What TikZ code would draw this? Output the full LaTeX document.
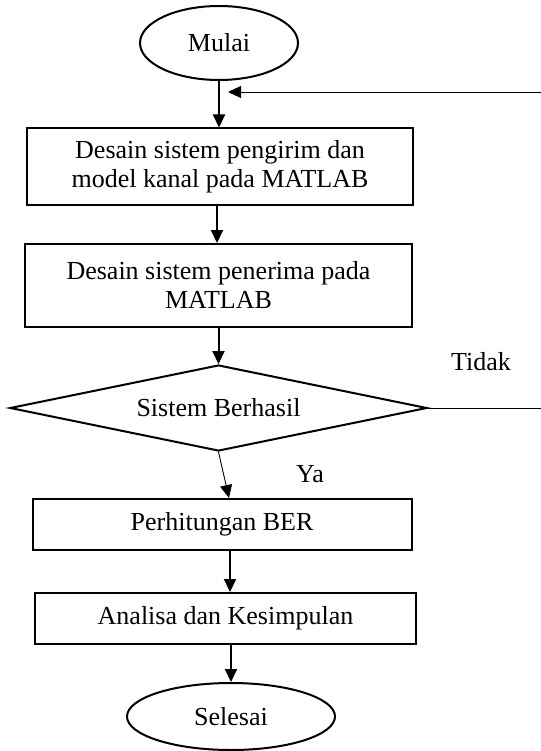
\documentclass[tikz,border=0pt]{standalone}
\usepackage{fontspec}
\setmainfont{Liberation Serif}
\usetikzlibrary{shapes.geometric,arrows.meta}

\begin{document}
\begin{tikzpicture}
[every node/.style={inner sep=0pt, font=\fontsize{26}{29}\selectfont},
 kotak/.style={rectangle, line width=2pt, draw=black, align=center},
 elips/.style={ellipse, line width=2pt, draw=black},
 arah/.style={line width=2pt, -{Triangle[length=13pt,width=12pt]}},
 tipis/.style={line width=0.9pt, -{Triangle[length=13pt,width=12pt]}}]
\useasboundingbox (0pt,0pt) rectangle (540pt,-751pt);
\node (mulai) [elips, minimum width=158pt, minimum height=74pt] at (219pt, -43pt) {Mulai};
\node (desain1) [kotak, minimum width=386pt, minimum height=77pt] at (220pt, -167pt) {Desain sistem pengirim dan\\model kanal pada MATLAB};
\node (desain2) [kotak, minimum width=387pt, minimum height=83pt] at (218.5pt, -285.5pt) {Desain sistem penerima pada\\MATLAB};
\node (cek) [diamond, aspect=4.85, minimum width=417pt, minimum height=86pt, line width=2pt, draw=black] at (218.5pt, -408pt) {Sistem Berhasil};
\node (ber) [kotak, minimum width=379pt, minimum height=51pt] at (222pt, -524.5pt) {Perhitungan BER};
\node (analisa) [kotak, minimum width=381pt, minimum height=51pt] at (225.5pt, -618.5pt) {Analisa dan Kesimpulan};
\node (selesai) [elips, minimum width=208pt, minimum height=67pt] at (231pt, -716.5pt) {Selesai};
\node (tidak) at (481pt, -362pt) {Tidak};
\node (ya) at (310pt, -474pt) {Ya};
\coordinate (kanan) at (541pt, -92pt);
\coordinate (masuk) at (228pt, -92pt);
\draw [arah] (mulai.south) -- (mulai.south |- desain1.north);
\draw [arah] ([xshift=-3pt]desain1.south) -- ([xshift=-3pt]desain1.south |- desain2.north);
\draw [arah] (cek.north |- desain2.south) -- (cek.north);
\draw [tipis] (cek.south) -- ([xshift=7pt]ber.north);
\draw [arah] ([xshift=8pt]ber.south) -- ([xshift=8pt]ber.south |- analisa.north);
\draw [arah] (selesai.north |- analisa.south) -- (selesai.north);
\draw [tipis] (cek.east) -| (kanan) -- (masuk);
\end{tikzpicture}
\end{document}
